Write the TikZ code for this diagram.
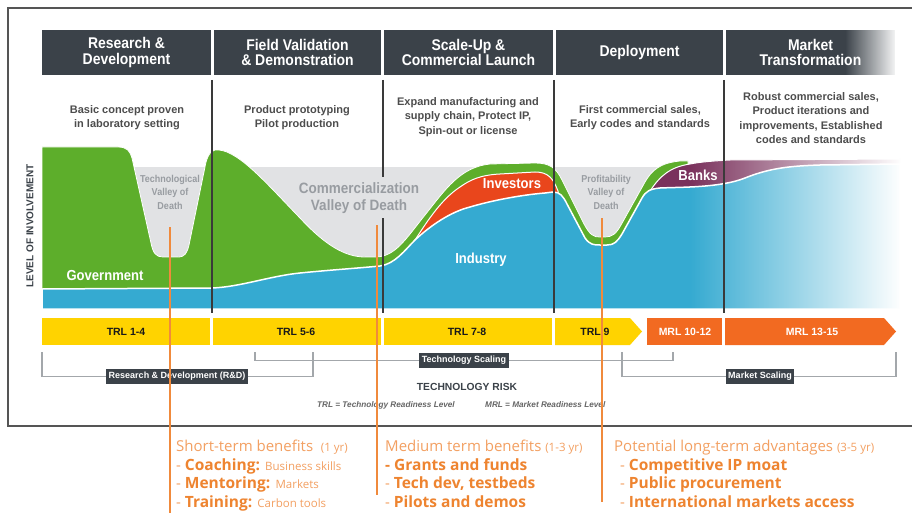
\documentclass[tikz,border=0pt]{standalone}
\usepackage{fontspec}
\setmainfont{Liberation Sans}
\newfontfamily\cnd[FakeStretch=0.9]{Liberation Sans}
\newfontfamily\osans{Open Sans}
\usetikzlibrary{fadings}
\definecolor{hdr}{HTML}{3B4249}
\definecolor{gov}{HTML}{5DAE2B}
\definecolor{vgrey}{HTML}{E1E2E4}
\definecolor{ind}{HTML}{35AAD1}
\definecolor{inv}{HTML}{E9461C}
\definecolor{bank}{HTML}{7A315C}
\definecolor{trl}{HTML}{FFD300}
\definecolor{mrl}{HTML}{F26A21}
\definecolor{vtxt}{HTML}{989CA1}
\definecolor{desct}{HTML}{4D4D4D}
\definecolor{brkc}{HTML}{A3A7AB}
\definecolor{sepc}{HTML}{3A3A3A}
\definecolor{frame}{HTML}{555555}
\definecolor{orL}{HTML}{F3A062}
\definecolor{orB}{HTML}{EE8430}
\definecolor{oline}{HTML}{F08A3C}
\newcommand\obold[1]{{\color{orB}\bfseries\fontsize{15.5}{17}\selectfont #1}}
\newcommand\osmall[1]{{\fontsize{11.5}{13}\selectfont #1}}
\tikzfading[name=fadeR, left color=transparent!100, right color=transparent!0]
\tikzset{
  hdrbox/.style={fill=hdr, text=white, font=\cnd\bfseries\fontsize{15.5}{15.5}\selectfont, align=center, minimum height=45pt, inner sep=0pt},
  desc/.style={text=desct, font=\bfseries\fontsize{11}{14.5}\selectfont, align=center, inner sep=0pt},
  vtext/.style={text=vtxt, font=\cnd\bfseries\fontsize{10}{13.5}\selectfont, align=center, inner sep=0pt},
  bigw/.style={text=white, font=\cnd\bfseries\fontsize{14.5}{16}\selectfont, inner sep=0pt},
  sepline/.style={draw=sepc, line width=1.3pt},
  trltxt/.style={font=\bfseries\fontsize{10.5}{12}\selectfont, text=black!90, inner sep=0pt},
  mrltxt/.style={font=\bfseries\fontsize{10.5}{12}\selectfont, text=white, inner sep=0pt},
  brkline/.style={draw=brkc, line width=1.2pt},
  tagbox/.style={fill=hdr, text=white, font=\bfseries\fontsize{9}{10}\selectfont, inner sep=2.5pt, minimum height=15pt},
  oln/.style={draw=oline, line width=1.1pt},
  btxt/.style={anchor=base west, inner sep=0pt, font=\osans\fontsize{15}{16}\selectfont, text=orL},
}
\begin{document}
\begin{tikzpicture}[x=1pt,y=-1pt]
\useasboundingbox (0,0) rectangle (912,513);
\fill[white] (0,0) rectangle (912,513);
% frame
\draw[frame, line width=1.5pt] (912,8) -- (8,8) -- (8,426) -- (912,426);
% headers
\node[hdrbox, minimum width=169pt] (h1) at (126.5,52.5) {Research \&\\Development};
\node[hdrbox, minimum width=167pt] (h2) at (297.5,52.5) {Field Validation\\\& Demonstration};
\node[hdrbox, minimum width=169pt] (h3) at (468.5,52.5) {Scale-Up \&\\Commercial Launch};
\node[hdrbox, minimum width=167pt] (h4) at (639.5,52.5) {Deployment};
\node[hdrbox, minimum width=169pt] (h5) at (810.5,52.5) {Market\\Transformation};
\fill[white, path fading=fadeR] (845,29) rectangle (898,77);
% grey valley band
\fill[vgrey] (135,167) rectangle (686,295);
% government
\filldraw[fill=gov, draw=white, line width=0.8pt]
  (42,300) -- (42,147) -- (118,147) .. controls (127,147) and (130,151) .. (132,158)
  -- (151,243) .. controls (153,253) and (156,257) .. (163,257) -- (178,257)
  .. controls (185,257) and (187,253) .. (189,245) -- (206,162)
  .. controls (209,152) and (213,149) .. (219,150)
  .. controls (240,152) and (268,185) .. (300,218)
  .. controls (325,245) and (345,257) .. (365,257) -- (375,257)
  .. controls (395,257) and (405,240) .. (425,215)
  .. controls (445,190) and (460,167) .. (490,164) -- (535,163)
  .. controls (550,163) and (556,168) .. (562,180) -- (583,222)
  .. controls (590,236) and (594,237) .. (600,237) -- (605,237)
  .. controls (612,237) and (616,234) .. (621,225) -- (645,182)
  .. controls (652,170) and (660,163) .. (680,161) -- (688,161) -- (688,300) -- cycle;
% investors
\filldraw[fill=inv, draw=white, line width=1pt]
  (415,240) .. controls (425,225) and (440,200) .. (460,187)
  .. controls (470,180) and (480,175) .. (500,174) -- (535,172)
  .. controls (548,172) and (553,178) .. (558,191) -- (558,260) -- (415,260) -- cycle;
% banks
\filldraw[fill=bank, draw=white, line width=1pt]
  (650,191) .. controls (660,176) and (670,167) .. (690,164)
  .. controls (700,162) and (712,161) .. (730,160) -- (900,159) -- (900,230) -- (650,230) -- cycle;
% industry
\filldraw[fill=ind, draw=white, line width=1.5pt]
  (42,309) -- (42,289) -- (212,288) .. controls (240,287) and (270,276) .. (300,273)
  .. controls (330,270) and (360,268) .. (380,266)
  .. controls (395,264) and (405,250) .. (415,240)
  .. controls (430,226) and (450,212) .. (470,207)
  .. controls (490,201) and (520,195) .. (545,193) -- (553,192)
  .. controls (560,192) and (563,196) .. (567,204) -- (585,238)
  .. controls (590,245) and (594,245) .. (600,245) -- (607,245)
  .. controls (614,245) and (617,242) .. (622,234) -- (642,198)
  .. controls (646,191) and (650,189) .. (660,188)
  .. controls (680,187) and (720,188) .. (745,178)
  .. controls (770,168) and (790,166) .. (820,165) -- (900,164) -- (900,309) -- cycle;
% fade to white on the right
\fill[white, path fading=fadeR] (690,150) rectangle (901,311);
% descriptions
\node[desc] (d1) at (127,117.5) {Basic concept proven\\in laboratory setting};
\node[desc] (d2) at (297,117.5) {Product prototyping\\Pilot production};
\node[desc] (d3) at (468,117) {Expand manufacturing and\\supply chain, Protect IP,\\Spin-out or license};
\node[desc] (d4) at (640,117.5) {First commercial sales,\\Early codes and standards};
\node[desc] (d5) at (811,118) {Robust commercial sales,\\Product iterations and\\improvements, Established\\codes and standards};
% chart labels
\node[vtext] (tv) at (170,192) {Technological\\Valley of\\Death};
\node[vtext, font=\cnd\bfseries\fontsize{15}{17}\selectfont] (cv) at (359,198.5) {Commercialization\\Valley of Death};
\node[vtext] (pv) at (606,192) {Profitability\\Valley of\\Death};
\node[bigw] (gv) at (105,276) {Government};
\node[bigw] (in) at (481,260) {Industry};
\node[bigw] (iv) at (512,184) {Investors};
\node[bigw] (bk) at (698,175) {Banks};
\node[rotate=90, text=hdr, font=\bfseries\fontsize{10}{12}\selectfont, inner sep=0pt] (lv) at (30,226) {LEVEL OF INVOLVEMENT};
% separators
\draw[sepline] (212,80) -- (212,313);
\draw[sepline] (383,80) -- (383,177);
\draw[sepline] (383,218) -- (383,313);
\draw[sepline] (554,80) -- (554,313);
\draw[sepline] (724,80) -- (724,313);
% readiness bars
\fill[trl] (42,318) rectangle (210,345);
\fill[trl] (213,318) rectangle (381,345);
\fill[trl] (384,318) rectangle (552,345);
\fill[trl] (555,318) -- (630,318) -- (642,331.5) -- (630,345) -- (555,345) -- cycle;
\fill[mrl] (647,318) rectangle (722,345);
\fill[mrl] (725,318) -- (884,318) -- (896,331.5) -- (884,345) -- (725,345) -- cycle;
\node[trltxt] (t1) at (126,331.5) {TRL 1-4};
\node[trltxt] (t2) at (296,331.5) {TRL 5-6};
\node[trltxt] (t3) at (467,331.5) {TRL 7-8};
\node[trltxt] (t4) at (595,331.5) {TRL 9};
\node[mrltxt] (m1) at (685,331.5) {MRL 10-12};
\node[mrltxt] (m2) at (812,331.5) {MRL 13-15};
% brackets
\node[tagbox] (rd) at (177,376.5) {Research \& Development (R\&D)};
\node[tagbox] (ts) at (464,360.5) {Technology Scaling};
\node[tagbox] (ms) at (760,376.5) {Market Scaling};
\coordinate (rdA) at (42,352);
\coordinate (rdB) at (313,352);
\coordinate (tsA) at (255,352);
\coordinate (tsB) at (673,352);
\coordinate (msA) at (622,352);
\coordinate (msB) at (896,352);
\draw[brkline] (rdA) -- (42,376.5) -- (rd.west);
\draw[brkline] (rd.east) -- (313,376.5) -- (rdB);
\draw[brkline] (tsA) -- (255,360.5) -- (ts.west);
\draw[brkline] (ts.east) -- (673,360.5) -- (tsB);
\draw[brkline] (msA) -- (622,376.5) -- (ms.west);
\draw[brkline] (ms.east) -- (896,376.5) -- (msB);
\node[text=hdr, font=\bfseries\fontsize{10.3}{12}\selectfont, inner sep=0pt] (tr) at (467,386.5) {TECHNOLOGY RISK};
\node[text=black!60, font=\bfseries\itshape\fontsize{8.2}{10}\selectfont, inner sep=0pt, anchor=west] (lg1) at (317,405) {TRL = Technology Readiness Level};
\node[text=black!60, font=\bfseries\itshape\fontsize{8.2}{10}\selectfont, inner sep=0pt, anchor=west] (lg2) at (485,405) {MRL = Market Readiness Level};
% orange markers
\coordinate (o1a) at (170,227); \coordinate (o1b) at (170,513);
\coordinate (o2a) at (377,225); \coordinate (o2b) at (377,495);
\coordinate (o3a) at (602,218); \coordinate (o3b) at (602,502);
\draw[oln] (o1a) -- (o1b);
\draw[oln] (o2a) -- (o2b);
\draw[oln] (o3a) -- (o3b);
% benefits
\node[btxt] (s0) at (176,451) {Short-term benefits\ \ \osmall{(1 yr)}};
\node[btxt] (s1) at (176,470) {- \obold{Coaching:} \osmall{Business skills}};
\node[btxt] (s2) at (176,488.5) {- \obold{Mentoring:} \osmall{Markets}};
\node[btxt] (s3) at (176,507) {- \obold{Training:} \osmall{Carbon tools}};
\node[btxt] (m0) at (385,451) {Medium term benefits \osmall{(1-3 yr)}};
\node[btxt] (m1b) at (385,470) {\obold{- Grants and funds}};
\node[btxt] (m2b) at (385,488.5) {- \obold{Tech dev, testbeds}};
\node[btxt] (m3b) at (385,507) {- \obold{Pilots and demos}};
\node[btxt] (l0) at (614,451) {Potential long-term advantages \osmall{(3-5 yr)}};
\node[btxt] (l1) at (620,470) {- \obold{Competitive IP moat}};
\node[btxt] (l2) at (620,488.5) {- \obold{Public procurement}};
\node[btxt] (l3) at (620,507) {- \obold{International markets access}};
\end{tikzpicture}
\end{document}
